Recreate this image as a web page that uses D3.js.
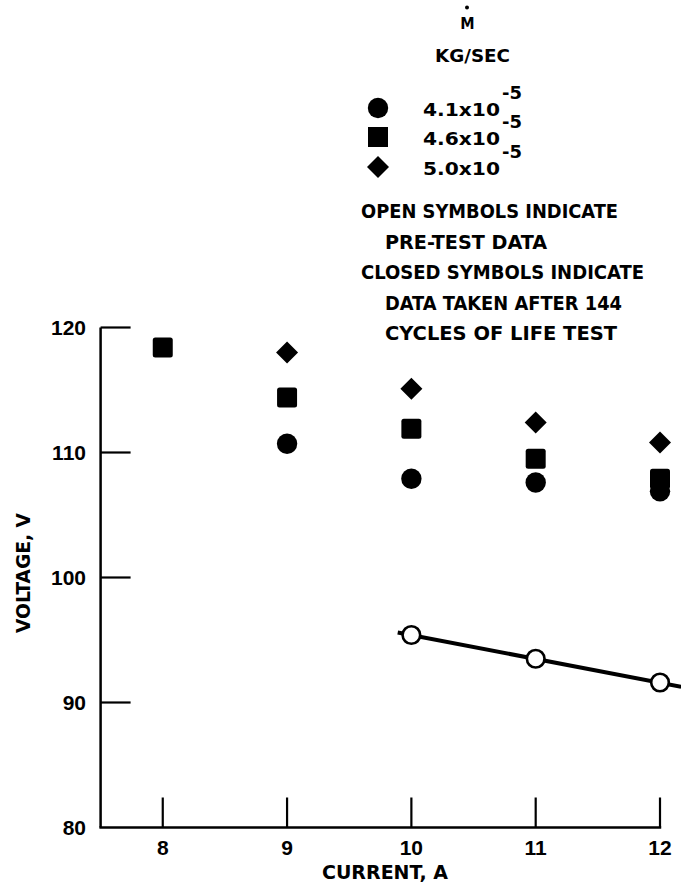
<!DOCTYPE html>
<html><head><meta charset="utf-8">
<script src="https://cdn.jsdelivr.net/npm/d3@7"></script>
<style>
body{margin:0;background:#fff;}
svg text{fill:#000;}
.num{font-family:"Liberation Sans",Arial,sans-serif;font-weight:bold;}
.lbl{font-family:"DejaVu Sans Condensed","DejaVu Sans",sans-serif;font-weight:bold;}
</style></head>
<body><svg id="c" width="681" height="892"></svg>
<script>
const currents = [8, 9, 10, 11, 12];
const closedCircle = [null, 110.7, 107.9, 107.6, 106.9];
const closedSquare = [118.4, 114.4, 111.9, 109.5, 107.9];
const closedDiamond = [null, 118.0, 115.1, 112.4, 110.8];
const openCircle = [null, null, 95.4, 93.5, 91.6];
const fitX = [9.89, 12.17];
const fitY = [95.6, 91.25];
const xTicks = [8, 9, 10, 11, 12];
const yTicks = [80, 90, 100, 110, 120];
const legendLabels = ["4.1x10", "4.6x10", "5.0x10"];
const legendExp = "-5";
const notes = ["OPEN SYMBOLS INDICATE", "PRE-TEST DATA", "CLOSED SYMBOLS INDICATE", "DATA TAKEN AFTER 144", "CYCLES OF LIFE TEST"];

const svg = d3.select("#c");
const x = d3.scaleLinear().domain([7.5, 12]).range([100.6, 660]);
const y = d3.scaleLinear().domain([80, 120]).range([827.5, 327.5]);

// axes
const g = svg.append("g");
g.append("line").attr("x1", x(7.5)).attr("x2", x(7.5)).attr("y1", y(80)).attr("y2", y(120))
  .attr("stroke", "#000").attr("stroke-width", 2.5);
g.append("line").attr("x1", x(7.5)-1.2).attr("x2", x(12)+1.2).attr("y1", y(80)).attr("y2", y(80))
  .attr("stroke", "#000").attr("stroke-width", 2.5);
g.selectAll(".yt").data(yTicks.filter(d => d > 80)).enter().append("line")
  .attr("x1", x(7.5)).attr("x2", x(7.5) + 30).attr("y1", d => y(d)).attr("y2", d => y(d))
  .attr("stroke", "#000").attr("stroke-width", 2.2);
g.selectAll(".xt").data(xTicks).enter().append("line")
  .attr("x1", d => x(d)).attr("x2", d => x(d)).attr("y1", y(80)).attr("y2", y(80) - 30)
  .attr("stroke", "#000").attr("stroke-width", 2.2);
g.selectAll(".yl").data(yTicks).enter().append("text").attr("class", "num")
  .attr("x", 86).attr("y", d => y(d) + 7.5).attr("text-anchor", "end")
  .attr("font-size", 21).text(d => d);
g.selectAll(".xl").data(xTicks).enter().append("text").attr("class", "num")
  .attr("x", d => x(d)).attr("y", 855).attr("text-anchor", "middle")
  .attr("font-size", 21).text(d => d);
svg.append("text").attr("class", "lbl").attr("x", 322).attr("y", 879)
  .attr("font-size", 20)
  .attr("textLength", 126).attr("lengthAdjust", "spacingAndGlyphs").text("CURRENT, A");
svg.append("text").attr("class", "lbl").attr("transform", "translate(30,633) rotate(-90)")
  .attr("font-size", 20)
  .attr("textLength", 120).attr("lengthAdjust", "spacingAndGlyphs").text("VOLTAGE, V");

// fit line
svg.append("path").datum(fitX.map((d, i) => [d, fitY[i]]))
  .attr("d", d3.line().x(d => x(d[0])).y(d => y(d[1])))
  .attr("stroke", "#000").attr("stroke-width", 4).attr("fill", "none");

function pts(vals) { return currents.map((c, i) => ({c, v: vals[i]})).filter(d => d.v != null); }

const sq = 20;
svg.selectAll(".sq").data(pts(closedSquare)).enter().append("rect")
  .attr("x", d => x(d.c) - sq/2).attr("y", d => y(d.v) - sq/2)
  .attr("width", sq).attr("height", sq).attr("rx", 2.5).attr("fill", "#000");
svg.selectAll(".ci").data(pts(closedCircle)).enter().append("circle")
  .attr("cx", d => x(d.c)).attr("cy", d => y(d.v)).attr("r", 10.2).attr("fill", "#000");
const diamond = "M0,-11L11,0L0,11L-11,0Z";
svg.selectAll(".di").data(pts(closedDiamond)).enter().append("path")
  .attr("transform", d => `translate(${x(d.c)},${y(d.v)})`).attr("d", diamond).attr("fill", "#000");
svg.selectAll(".oc").data(pts(openCircle)).enter().append("circle")
  .attr("cx", d => x(d.c)).attr("cy", d => y(d.v)).attr("r", 8.8)
  .attr("fill", "#fff").attr("stroke", "#000").attr("stroke-width", 2.6);

// legend header
svg.append("circle").attr("cx", 467).attr("cy", 7.5).attr("r", 2).attr("fill", "#000");
svg.append("text").attr("class", "lbl").attr("x", 467.5).attr("y", 29).attr("text-anchor", "middle")
  .attr("font-size", 16).text("M");
svg.append("text").attr("class", "lbl").attr("x", 435).attr("y", 62)
  .attr("font-size", 17).attr("textLength", 75).attr("lengthAdjust", "spacingAndGlyphs").text("KG/SEC");

const legY = [108, 137, 167];
svg.append("circle").attr("cx", 378).attr("cy", legY[0]).attr("r", 10.2).attr("fill", "#000");
svg.append("rect").attr("x", 378 - 10).attr("y", legY[1] - 10).attr("width", 20).attr("height", 20).attr("fill", "#000");
svg.append("path").attr("transform", `translate(378,${legY[2]})`).attr("d", diamond).attr("fill", "#000");
legendLabels.forEach((t, i) => {
  svg.append("text").attr("class", "lbl").attr("x", 423).attr("y", legY[i] + 8).attr("font-size", 18)
    .attr("textLength", 77).attr("lengthAdjust", "spacingAndGlyphs").text(t);
  svg.append("text").attr("class", "lbl").attr("x", 502).attr("y", legY[i] - 9).attr("font-size", 18)
    .attr("textLength", 20).attr("lengthAdjust", "spacingAndGlyphs").text(legendExp);
});

// notes
const noteY = [218, 249, 279, 310, 340];
const noteX = [361, 385, 361, 385, 385];
const noteW = [257, 162, 283, 237, 232];
notes.forEach((t, i) => {
  svg.append("text").attr("class", "lbl").attr("x", noteX[i]).attr("y", noteY[i]).attr("font-size", 19)
    .attr("textLength", noteW[i]).attr("lengthAdjust", "spacingAndGlyphs").text(t);
});
</script></body></html>
